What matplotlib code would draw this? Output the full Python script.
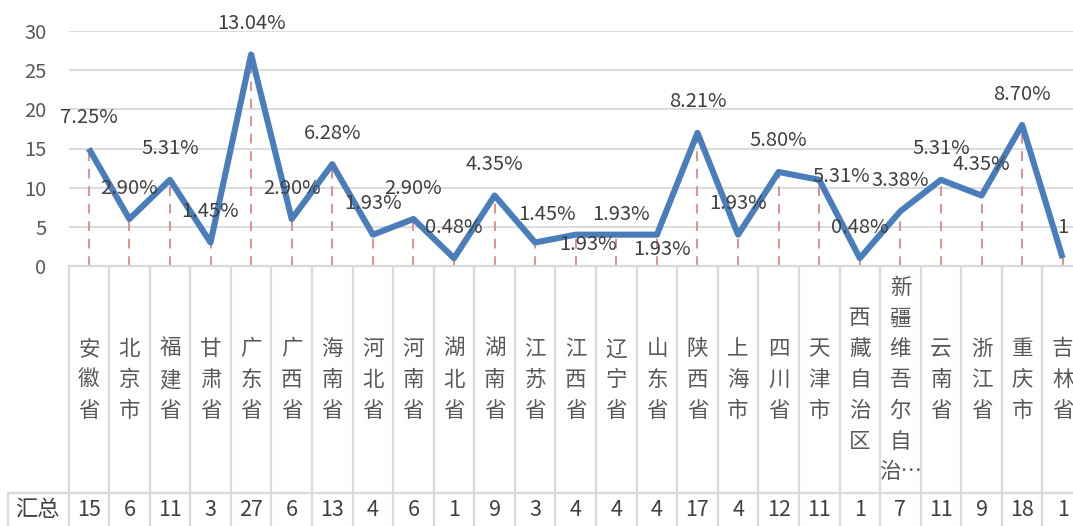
import matplotlib
matplotlib.use("Agg")
import matplotlib.pyplot as plt
import matplotlib.transforms as mtransforms

plt.rcParams['font.family'] = ['Noto Sans CJK SC', 'DejaVu Sans']

# data
provinces = ['安徽省', '北京市', '福建省', '甘肃省', '广东省', '广西省', '海南省',
             '河北省', '河南省', '湖北省', '湖南省', '江苏省', '江西省', '辽宁省',
             '山东省', '陕西省', '上海市', '四川省', '天津市', '西藏自治区',
             '新疆维吾尔自治区', '云南省', '浙江省', '重庆市', '吉林省']
counts = [15, 6, 11, 3, 27, 6, 13, 4, 6, 1, 9, 3, 4, 4, 4, 17, 4, 12, 11, 1,
          7, 11, 9, 18, 1]
pct_labels = ['7.25%', '2.90%', '5.31%', '1.45%', '13.04%', '2.90%', '6.28%',
              '1.93%', '2.90%', '0.48%', '4.35%', '1.45%', '1.93%', '1.93%',
              '1.93%', '8.21%', '1.93%', '5.80%', '5.31%', '0.48%', '3.38%',
              '5.31%', '4.35%', '8.70%', '1']
row_title = '汇总'

# label offsets in pixels (most sit straight above the point)
label_off = [(0, 31)] * len(counts)
label_off[11] = (12, 28)
label_off[12] = (12, -10)
label_off[13] = (5, 20)
label_off[14] = (5, -15)
label_off[18] = (22, 3)

W, H = 1073, 526
fig = plt.figure(figsize=(W / 100, H / 100), dpi=100)
# axes: x from 68.5px to 1083px (cut off on the right), y 0..30 from 266px to 31px
ax = fig.add_axes([68.5 / W, (H - 266) / H, (1083 - 68.5) / W, 235 / H])

grid_c = '#D9D9D9'
text_c = '#404040'
n = len(counts)
xs = list(range(n))

ax.set_xlim(-0.5, n - 0.5)
ax.set_ylim(0, 30)
ax.set_yticks(range(0, 31, 5))
ax.tick_params(axis='y', length=0, pad=16, labelsize=14.5, labelcolor='#595959')
ax.set_xticks([])
for s in ax.spines.values():
    s.set_visible(False)
ax.yaxis.grid(True, color=grid_c, lw=1.3)
ax.set_axisbelow(True)

# drop lines
ax.vlines(xs, 0, counts, colors='#E0908F', linestyles=(0, (5, 4)), lw=1.4, zorder=2)
ax.plot(xs, counts, color='#4A7EBB', lw=4.4, solid_joinstyle='round',
        solid_capstyle='butt', zorder=3)

for i, (v, lab) in enumerate(zip(counts, pct_labels)):
    dx, dy = label_off[i]
    ax.annotate(lab, (i, v), xytext=(dx, dy), textcoords='offset pixels',
                ha='center', va='center', fontsize=14.5, color=text_c,
                annotation_clip=False, zorder=4)

# data table below the plot
blend = mtransforms.blended_transform_factory(ax.transData, ax.transAxes)
bottom = (266 - 530) / 235.0
ax.plot([-0.5, n - 0.5], [0, 0], transform=blend, color=grid_c, lw=1.6,
        clip_on=False)
for k in range(n + 1):
    ax.plot([k - 0.5, k - 0.5], [0, bottom], transform=blend, color=grid_c,
            lw=1.6, clip_on=False)

# row separator and the title cell on the left
fig.add_artist(plt.Line2D([8 / W, 1], [(H - 493) / H] * 2, color=grid_c, lw=1.6))
fig.add_artist(plt.Line2D([8 / W] * 2, [(H - 493) / H, 0], color=grid_c, lw=1.6))
fig.text(37 / W, (H - 510) / H, row_title, ha='center', va='center',
         fontsize=16, color=text_c)

cat_center = (266 - 380) / 235.0
pitch = 30.8
for i, name in enumerate(provinces):
    chars = list(name)
    if len(chars) > 7:
        chars = chars[:7]
        chars[-1] += '…'
    m = len(chars)
    for j, ch in enumerate(chars):
        off = ((m - 1) / 2.0 - j) * pitch
        ax.annotate(ch, (i, cat_center), xycoords=blend, xytext=(0, off),
                    textcoords='offset pixels', ha='center', va='center',
                    fontsize=15.5, color='#595959', annotation_clip=False)
    ax.text(i, (266 - 510) / 235.0, str(counts[i]), transform=blend,
            ha='center', va='center', fontsize=15.5, color=text_c, clip_on=False)

fig.savefig('out.png', dpi=100)
